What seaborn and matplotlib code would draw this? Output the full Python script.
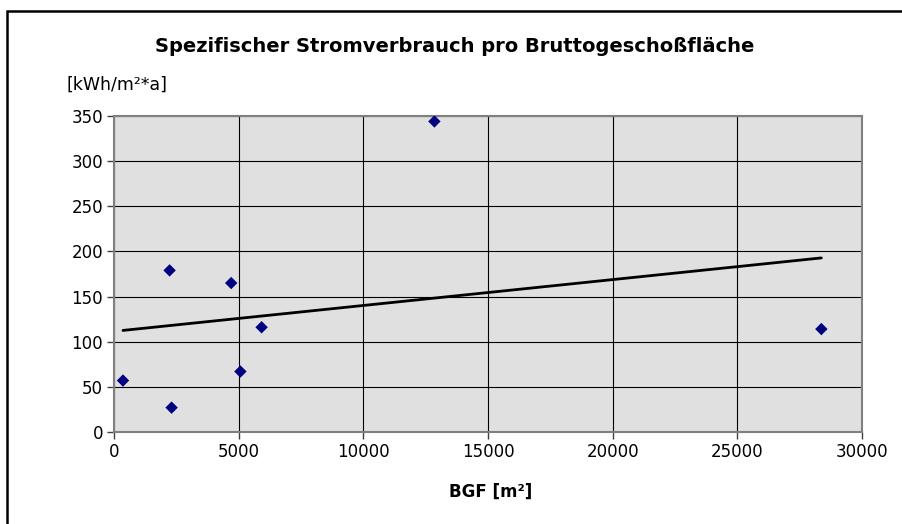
import matplotlib
matplotlib.use("Agg")
import matplotlib.pyplot as plt
import seaborn as sns
import pandas as pd
from matplotlib.patches import Rectangle

# Data
bgf = [360, 2230, 2310, 4700, 5070, 5920, 12850, 28370]
verbrauch = [57, 179, 27, 165, 67, 116, 344, 114]
x_ticks = [0, 5000, 10000, 15000, 20000, 25000, 30000]
y_ticks = [0, 50, 100, 150, 200, 250, 300, 350]

title = "Spezifischer Stromverbrauch pro Bruttogeschoßfläche"
y_unit = "[kWh/m²*a]"
x_label = "BGF [m²]"

df = pd.DataFrame({"BGF": bgf, "Verbrauch": verbrauch})

sns.set_theme(style="white")
plt.rcParams["font.family"] = ["DejaVu Sans"]
plt.rcParams["text.color"] = "black"

W, H = 902, 524
fig = plt.figure(figsize=(W / 100, H / 100), dpi=100)
ax = fig.add_axes([114 / W, 1 - 432 / H, (862 - 114) / W, (432 - 116) / H])
ax.set_facecolor("#e0e0e0")

sns.regplot(data=df, x="BGF", y="Verbrauch", scatter=False, ci=None,
            truncate=True, color="black", line_kws=dict(lw=2.0), ax=ax)
sns.scatterplot(data=df, x="BGF", y="Verbrauch", marker="D", s=40,
                color="#000080", edgecolor="none", ax=ax, zorder=5)

ax.set_xlim(0, 30000)
ax.set_ylim(0, 350)
ax.set_xticks(x_ticks)
ax.set_yticks(y_ticks)
ax.set_xlabel("")
ax.set_ylabel("")
ax.grid(True, color="black", linewidth=0.8)
ax.set_axisbelow(True)
for s in ax.spines.values():
    s.set_visible(True)
    s.set_color("#808080")
    s.set_linewidth(1.5)
ax.tick_params(axis="both", direction="out", length=5, width=1, color="#404040",
               labelsize=12, labelcolor="black", pad=3)
ax.tick_params(axis="both", bottom=True, left=True)

fig.text(455 / W, 1 - 47 / H, title, ha="center", va="center",
         fontsize=14, fontweight="bold", color="black")
fig.text(66 / W, 1 - 85 / H, y_unit, ha="left", va="center", fontsize=12.5,
         color="black")
fig.text(491 / W, 1 - 492 / H, x_label, ha="center", va="center",
         fontsize=12, fontweight="bold", color="black")

fig.add_artist(Rectangle((7.5 / W, -0.1), 1.2, 1.1 - 11 / H,
                         transform=fig.transFigure, fill=False,
                         edgecolor="black", linewidth=1.8, clip_on=False))

fig.savefig("out.png", dpi=100)
